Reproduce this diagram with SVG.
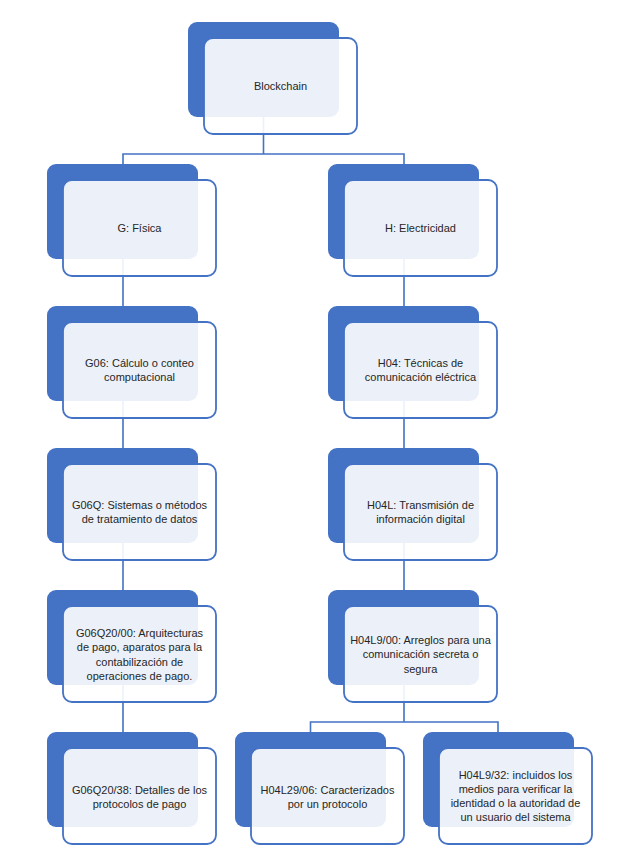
<svg xmlns="http://www.w3.org/2000/svg" width="639" height="861" viewBox="0 0 639 861">
<style>
.bk{fill:#4472C4}
.fr{fill:#FFFFFF;fill-opacity:0.9;stroke:#4472C4;stroke-width:1.8}
.cn{fill:none;stroke:#4472C4;stroke-width:1.6}
text{font-family:"Liberation Sans",Arial,sans-serif;font-size:11px;fill:#262626;text-anchor:middle;dominant-baseline:central}
</style>
<rect width="639" height="861" fill="#FFFFFF"/>
<g id="connectors">
<path class="cn" d="M263.5,117 V154 M123,164 V154 H404 V164"/>
<path class="cn" d="M123,259 V306 M123,401 V448 M123,543 V590 M123,685 V732"/>
<path class="cn" d="M404,259 V306 M404,401 V448 M404,543 V590 M404,685 V722 M310.5,732 V722 H498 V732"/>
</g>
<g id="n-blockchain">
<rect class="bk" x="188" y="22" width="151" height="95" rx="9"/>
<rect class="fr" x="204" y="38" width="153" height="96" rx="9"/>
<text x="280.5" y="86">Blockchain</text>
</g>
<g id="n-g">
<rect class="bk" x="47" y="164" width="151" height="95" rx="9"/>
<rect class="fr" x="63" y="180" width="153" height="96" rx="9"/>
<text x="139.5" y="228">G: Física</text>
</g>
<g id="n-h">
<rect class="bk" x="328" y="164" width="151" height="95" rx="9"/>
<rect class="fr" x="344" y="180" width="153" height="96" rx="9"/>
<text x="420.5" y="228">H: Electricidad</text>
</g>
<g id="n-g06">
<rect class="bk" x="47" y="306" width="151" height="95" rx="9"/>
<rect class="fr" x="63" y="322" width="153" height="96" rx="9"/>
<text x="139.5" y="363">G06: Cálculo o conteo</text>
<text x="139.5" y="377.3">computacional</text>
</g>
<g id="n-h04">
<rect class="bk" x="328" y="306" width="151" height="95" rx="9"/>
<rect class="fr" x="344" y="322" width="153" height="96" rx="9"/>
<text x="420.5" y="363">H04: Técnicas de</text>
<text x="420.5" y="377.3">comunicación eléctrica</text>
</g>
<g id="n-g06q">
<rect class="bk" x="47" y="448" width="151" height="95" rx="9"/>
<rect class="fr" x="63" y="464" width="153" height="96" rx="9"/>
<text x="139.5" y="505">G06Q: Sistemas o métodos</text>
<text x="139.5" y="519.3">de tratamiento de datos</text>
</g>
<g id="n-h04l">
<rect class="bk" x="328" y="448" width="151" height="95" rx="9"/>
<rect class="fr" x="344" y="464" width="153" height="96" rx="9"/>
<text x="420.5" y="505">H04L: Transmisión de</text>
<text x="420.5" y="519.3">información digital</text>
</g>
<g id="n-g06q2000">
<rect class="bk" x="47" y="590" width="151" height="95" rx="9"/>
<rect class="fr" x="63" y="606" width="153" height="96" rx="9"/>
<text x="139.5" y="633">G06Q20/00: Arquitecturas</text>
<text x="139.5" y="647.3">de pago, aparatos para la</text>
<text x="139.5" y="661.6">contabilización de</text>
<text x="139.5" y="675.9">operaciones de pago.</text>
</g>
<g id="n-h04l900">
<rect class="bk" x="328" y="590" width="151" height="95" rx="9"/>
<rect class="fr" x="344" y="606" width="153" height="96" rx="9"/>
<text x="420.5" y="640">H04L9/00: Arreglos para una</text>
<text x="420.5" y="654.3">comunicación secreta o</text>
<text x="420.5" y="668.6">segura</text>
</g>
<g id="n-g06q2038">
<rect class="bk" x="47" y="732" width="151" height="95" rx="9"/>
<rect class="fr" x="63" y="748" width="153" height="96" rx="9"/>
<text x="139.5" y="789.5">G06Q20/38: Detalles de los</text>
<text x="139.5" y="803.8">protocolos de pago</text>
</g>
<g id="n-h04l2906">
<rect class="bk" x="235" y="732" width="151" height="95" rx="9"/>
<rect class="fr" x="251" y="748" width="153" height="96" rx="9"/>
<text x="327.5" y="789.5">H04L29/06: Caracterizados</text>
<text x="327.5" y="803.8">por un protocolo</text>
</g>
<g id="n-h04l932">
<rect class="bk" x="423" y="732" width="151" height="95" rx="9"/>
<rect class="fr" x="439" y="748" width="153" height="96" rx="9"/>
<text x="515.5" y="774.5">H04L9/32: incluidos los</text>
<text x="515.5" y="788.8">medios para verificar la</text>
<text x="515.5" y="803.1">identidad o la autoridad de</text>
<text x="515.5" y="817.4">un usuario del sistema</text>
</g>
</svg>
